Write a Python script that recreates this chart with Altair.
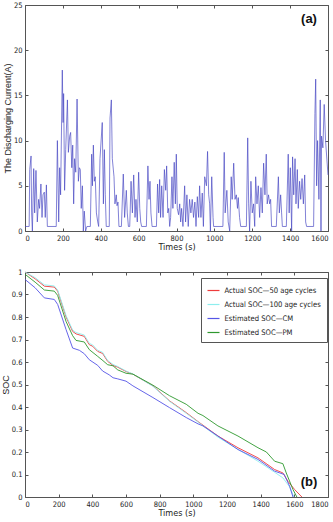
import altair as alt
import pandas as pd

# ---------------- data: panel (a) discharging current ----------------
cur_t = [0, 22, 25, 32, 35, 39, 46, 51, 58, 65, 72, 77, 84, 90, 95, 102, 107, 113, 118, 165,
         171, 178, 183, 188, 197, 201, 204, 209, 215, 224, 229, 236, 241, 247, 252, 257, 262, 268,
         275, 282, 287, 292, 297, 303, 308, 313, 320, 327, 345, 352, 356, 361, 366, 371, 377, 384,
         389, 396, 408, 414, 419, 424, 429, 445, 449, 456, 461, 470, 475, 482, 486, 491, 496, 509,
         519, 526, 535, 540, 546, 553, 560, 567, 574, 581, 586, 593, 600, 606, 611, 616, 641, 649,
         655, 660, 665, 671, 694, 700, 706, 711, 716, 722, 729, 736, 743, 748, 754, 759, 764, 769,
         776, 781, 788, 794, 799, 804, 811, 817, 822, 827, 834, 843, 848, 855, 862, 869, 876, 883,
         890, 897, 903, 910, 917, 922, 929, 936, 942, 949, 958, 964, 970, 975, 979, 986, 993, 996,
         1045, 1052, 1057, 1066, 1073, 1081, 1089, 1094, 1102, 1109, 1116, 1122, 1126, 1133, 1139,
         1169, 1176, 1181, 1186, 1193, 1200, 1207, 1213, 1218, 1225, 1232, 1239, 1246, 1253, 1260,
         1267, 1274, 1279, 1286, 1292, 1297, 1302, 1327, 1338, 1343, 1350, 1355, 1359, 1380, 1390,
         1395, 1401, 1408, 1413, 1419, 1426, 1431, 1438, 1443, 1450, 1456, 1463, 1470, 1477, 1482,
         1487, 1524, 1531, 1535, 1540, 1545, 1552, 1559, 1563, 1566, 1573, 1580, 1587, 1600]
cur_a = [0.5, 0.5, 6.8, 8.3, 2, 0, 6.9, 2, 6.7, 1, 3.5, 2.5, 5.2, 1.5, 4, 4.3, 1.5, 5.1, 0.5, 0.5,
         10, 1, 7, 4, 17.8, 12, 15.2, 4.5, 9, 14.5, 8.7, 10.5, 10.9, 7, 9.5, 3, 8, 6.5,
         14.6, 5.5, 7, 6.8, 2.5, 5, 0, 2.2, 0, 0.5, 0.5, 8.5, 5, 9.5, 5.5, 6, 2, 1,
         0.5, 8, 12, 3, 9, 4, 0.5, 0.5, 12.5, 14.5, 8, 6, 3, 4, 2.8, 3.2, 0.5, 0.5,
         6.3, 1.5, 4.5, 2, 0.5, 0.5, 5.5, 2, 6.2, 1.5, 3.5, 1, 6.5, 2.5, 1, 0.5, 0.5, 7.2,
         3.5, 5.5, 2, 0.5, 0.5, 5.2, 2, 5.7, 1.5, 5, 1.5, 6.8, 4.5, 7.2, 2, 2.5, 0.5, 1.5,
         6, 2.5, 7.6, 3, 8.5, 2.5, 1.8, 3, 1, 2.5, 0.5, 5, 1, 4, 0.5, 3.5, 2, 3.5,
         1.5, 3.2, 0.5, 3.8, 1.5, 5, 1.5, 4.2, 0.5, 6, 5, 8.8, 4, 3, 0, 6, 1.5, 0.5,
         0.5, 8.7, 2, 4.5, 1, 0, 6, 3.5, 7.5, 3.5, 4, 2.5, 3.7, 1.5, 0.5,
         0.5, 10.3, 3, 0, 5.5, 2, 3, 0.5, 6, 3, 5, 1.5, 4.8, 2, 7.5,
         4, 8.5, 3, 4, 3, 3.5, 0.5, 0.5, 6, 2, 4, 2, 0.5, 0.5, 8.5,
         2, 7, 0, 8.2, 4, 8, 3, 6.8, 2.5, 5.5, 3.5, 5.8, 3, 6.2, 1,
         0.5, 0.5, 13, 16.8, 5, 10, 3.5, 14.5, 0, 10.5, 9.2, 14, 10, 6.2]

# ---------------- data: panel (b) SOC ----------------
names = ["Actual SOC\u201450 age cycles", "Actual SOC\u2014100 age cycles",
         "Estimated SOC\u2014CM", "Estimated SOC\u2014PM"]
colors = ["#ee3b3b", "#8eeeee", "#5555e6", "#2e982e"]

red_t = [0, 60, 115, 174, 194, 244, 283, 303, 352, 382, 402, 432, 461, 491, 523, 551, 600, 641,
         700, 760, 859, 958, 1028, 1146, 1265, 1384, 1483, 1532, 1562, 1602, 1645]
red_s = [1.0, 0.97, 0.937, 0.933, 0.915, 0.80, 0.736, 0.725, 0.714, 0.677, 0.67, 0.647, 0.638,
         0.603, 0.585, 0.577, 0.558, 0.546, 0.52, 0.494, 0.427, 0.375, 0.335, 0.271, 0.219, 0.174,
         0.122, 0.107, 0.07, 0.033, 0.0]

cyan_t = [0, 60, 115, 174, 194, 244, 283, 303, 352, 382, 402, 432, 461, 491, 523, 551, 600, 641,
          700, 760, 859, 958, 1028, 1146, 1265, 1384, 1483, 1532, 1572, 1598]
cyan_s = [1.0, 0.975, 0.943, 0.938, 0.92, 0.806, 0.742, 0.731, 0.72, 0.683, 0.676, 0.652, 0.643,
          0.607, 0.589, 0.58, 0.56, 0.547, 0.52, 0.492, 0.425, 0.372, 0.333, 0.266, 0.212, 0.159,
          0.11, 0.085, 0.045, 0.0]

blue_t = [0, 60, 115, 174, 194, 244, 283, 323, 352, 382, 432, 461, 500, 523, 551, 600, 641, 760,
          859, 958, 1028, 1057, 1146, 1265, 1384, 1483, 1540, 1572, 1592]
blue_s = [0.967, 0.93, 0.885, 0.878, 0.856, 0.744, 0.662, 0.652, 0.637, 0.61, 0.585, 0.56, 0.543,
          0.53, 0.525, 0.515, 0.494, 0.442, 0.397, 0.353, 0.325, 0.316, 0.271, 0.211, 0.167, 0.115,
          0.10, 0.048, 0.0]

green_t = [0, 60, 115, 174, 194, 244, 283, 303, 352, 382, 432, 463, 491, 523, 551, 600, 641, 760,
           859, 958, 1028, 1057, 1146, 1265, 1384, 1434, 1483, 1532, 1552, 1592, 1615]
green_s = [0.99, 0.955, 0.92, 0.915, 0.896, 0.78, 0.717, 0.696, 0.689, 0.655, 0.625, 0.606, 0.588,
           0.583, 0.565, 0.55, 0.546, 0.497, 0.45, 0.412, 0.372, 0.362, 0.316, 0.271, 0.219, 0.2,
           0.159, 0.148, 0.107, 0.033, 0.0]

x_ticks_a = list(range(0, 1601, 200))
y_ticks_a = list(range(0, 26, 5))
x_ticks_b = list(range(0, 1801, 200))
y_ticks_b = [round(i * 0.1, 1) for i in range(11)]

NARROW = "Liberation Sans Narrow, DejaVu Sans Condensed, Liberation Sans, sans-serif"
NORMAL = "Liberation Sans, Arial, sans-serif"
AX = "#555555"

cur_df = pd.DataFrame({"t": cur_t, "I": cur_a})
soc_rows = []
for nm, ts, ss in zip(names, [red_t, cyan_t, blue_t, green_t], [red_s, cyan_s, blue_s, green_s]):
    for i, (t, s) in enumerate(zip(ts, ss)):
        soc_rows.append({"series": nm, "t": t, "soc": s, "order": i})
soc_df = pd.DataFrame(soc_rows)

W = 303


def mirror_axes(xs, xdom, yfield, ys, ydom):
    return dict(
        x=alt.X("t:Q", scale=alt.Scale(domain=xdom, nice=False),
                axis=alt.Axis(orient="top", values=xs, labels=False, title=None)),
        y=alt.Y(yfield, scale=alt.Scale(domain=ydom, nice=False),
                axis=alt.Axis(orient="right", values=ys, labels=False, title=None)),
    )


# ---------------- panel (a) ----------------
line_a = alt.Chart(cur_df).mark_line(color="#4646c2", strokeWidth=0.75, opacity=0.9).encode(
    x=alt.X("t:Q", scale=alt.Scale(domain=[0, 1600], nice=False),
            axis=alt.Axis(orient="bottom", values=x_ticks_a, format="d", title="Times (s)")),
    y=alt.Y("I:Q", scale=alt.Scale(domain=[0, 25], nice=False),
            axis=alt.Axis(orient="left", values=y_ticks_a, format="d",
                          title="The Discharging Current(A)",
                          titleFont=NORMAL, titleFontSize=9)),
    order="t:Q",
)
mirror_a = alt.Chart(cur_df).mark_point(opacity=0).encode(
    **mirror_axes(x_ticks_a, [0, 1600], "I:Q", y_ticks_a, [0, 25])
)
lab_a = alt.Chart(pd.DataFrame({"label": ["(a)"]})).mark_text(
    font=NORMAL, fontSize=13, fontWeight="bold", color="#111"
).encode(x=alt.value(284), y=alt.value(13.5), text="label:N")
top = (alt.layer(line_a, mirror_a, lab_a)
       .resolve_axis(x="independent", y="independent")
       .properties(width=W, height=226))

# ---------------- panel (b) ----------------
line_b = alt.Chart(soc_df).mark_line(strokeWidth=0.9).encode(
    x=alt.X("t:Q", scale=alt.Scale(domain=[0, 1800], nice=False),
            axis=alt.Axis(orient="bottom", values=x_ticks_b, format="d", title="Times (s)")),
    y=alt.Y("soc:Q", scale=alt.Scale(domain=[0, 1], nice=False),
            axis=alt.Axis(orient="left", values=y_ticks_b, format="~g", title="SOC",
                          titleFont=NORMAL, titleFontSize=9)),
    color=alt.Color("series:N", scale=alt.Scale(domain=names, range=colors), sort=names,
                    legend=alt.Legend(title=None, orient="none", legendX=176, legendY=6,
                                      symbolType="stroke", symbolSize=144,
                                      symbolStrokeWidth=1.2, labelFont=NARROW,
                                      labelFontSize=7.6, labelColor="#222", rowPadding=3,
                                      padding=5.5, strokeColor="#555", fillColor="white",
                                      labelOffset=4, labelLimit=250)),
    order="order:Q",
)
mirror_b = alt.Chart(soc_df).mark_point(opacity=0).encode(
    **mirror_axes(x_ticks_b, [0, 1800], "soc:Q", y_ticks_b, [0, 1])
)
lab_b = alt.Chart(pd.DataFrame({"label": ["(b)"]})).mark_text(
    font=NORMAL, fontSize=13, fontWeight="bold", color="#111"
).encode(x=alt.value(284), y=alt.value(209.5), text="label:N")
bottom = (alt.layer(line_b, mirror_b, lab_b)
          .resolve_axis(x="independent", y="independent")
          .properties(width=W, height=225))

chart = (
    alt.vconcat(top, bottom, spacing=15)
    .resolve_legend(color="independent")
    .properties(padding={"left": 0, "top": 0, "right": 0, "bottom": 2}, background="white")
    .configure_view(stroke=AX, strokeWidth=1)
    .configure_axis(domain=False, grid=False, ticks=True, tickColor=AX, tickSize=3, offset=-3,
                    minExtent=0, labelFont=NARROW, labelFontSize=7.5, labelColor="#222",
                    labelPadding=3, titleFont=NARROW, titleFontSize=9,
                    titleFontWeight="normal", titleColor="#222", titlePadding=1)
)

chart.save("out.html", embed_options={"renderer": "svg", "actions": False})
